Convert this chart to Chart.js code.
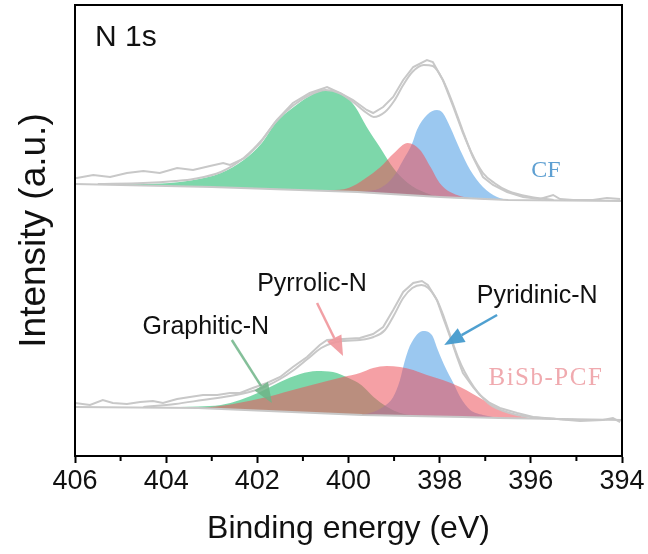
<!DOCTYPE html>
<html>
<head>
<meta charset="utf-8">
<script src="https://cdn.jsdelivr.net/npm/chart.js@4.4.1/dist/chart.umd.min.js"></script>
<style>
  html, body { margin: 0; padding: 0; background: #fff; }
  canvas { display: block; }
</style>
</head>
<body>
<canvas id="grafico" width="648" height="554"></canvas>
<script>
// CF - espectro de cima
const cfRawEv = [406.0, 405.96, 405.6, 405.23, 404.86, 404.5, 404.14, 403.76, 403.41, 403.04, 402.75, 402.6, 402.27, 401.94, 401.57, 401.22, 400.85, 400.47, 400.19, 399.9, 399.6, 399.46, 399.24, 399.02, 398.8, 398.58, 398.28, 398.15, 397.93, 397.7, 397.49, 397.27, 397.05, 396.83, 396.52, 396.17, 395.8, 395.51, 395.36, 395.07, 394.64, 394.33, 394.04]
const cfRawInt = [279, 279, 282, 280, 284, 286, 284, 289, 287, 291, 294, 292, 299, 314, 337, 354, 364, 370, 364, 357, 347, 344, 350, 360, 377, 390, 397, 395, 377, 350, 324, 300, 280, 272, 265, 260, 258, 262, 258, 257, 257, 259, 258]

const cfFitEv = [405.5, 404.5, 403.8, 403.4, 402.8, 402.3, 401.9, 401.6, 401.2, 400.85, 400.5, 400.2, 399.9, 399.6, 399.45, 399.2, 399.0, 398.8, 398.6, 398.35, 398.15, 397.93, 397.7, 397.5, 397.3, 397.05, 396.8, 396.5, 396.0, 395.5]
const cfFitInt = [273, 274, 276, 278, 285, 299, 317, 335, 352, 362, 367, 364, 355, 344, 340, 345, 356, 372, 385, 392, 391, 377, 352, 327, 304, 284, 274, 266, 260, 257]

const cfBaseEv = [406.0, 403.0, 399.8, 398.0, 396.5, 394.0]
const cfBaseInt = [273, 270, 265, 260, 257, 256]

const cfGraphiticEv = [405.5, 404.1, 403.4, 402.8, 402.3, 401.9, 401.6, 401.2, 400.85, 400.5, 400.1, 399.85, 399.6, 399.3, 399.0, 398.7, 398.3, 397.8, 397.2]
const cfGraphiticInt = [272.6, 273.5, 277, 284, 297, 314, 334, 350, 361, 367, 362, 350, 330, 309, 288, 274, 264, 259, 258.6]

const cfPyrrolicEv = [401.0, 400.4, 400.0, 399.65, 399.3, 399.0, 398.7, 398.43, 398.2, 398.0, 397.77, 397.3, 396.9]
const cfPyrrolicInt = [267, 267, 269, 278, 290, 304, 314, 307, 290, 274, 265, 258.5, 257.4]

const cfPyridinicEv = [399.9, 399.5, 399.3, 399.02, 398.8, 398.6, 398.5, 398.28, 398.06, 397.93, 397.77, 397.55, 397.33, 397.05, 396.74, 396.46]
const cfPyridinicInt = [265.2, 266.5, 269, 280, 297, 314, 327, 342, 347, 344, 330, 307, 287, 270, 260, 257]

// BiSb-PCF - espectro de baixo
const pcfRawEv = [406.0, 405.67, 405.39, 405.17, 404.86, 404.57, 404.29, 404.07, 403.76, 403.48, 403.19, 402.88, 402.6, 402.38, 402.1, 401.79, 401.5, 401.22, 400.91, 400.63, 400.47, 400.12, 399.75, 399.46, 399.24, 399.02, 398.8, 398.58, 398.39, 398.26, 398.06, 397.93, 397.77, 397.62, 397.49, 397.27, 397.12, 396.9, 396.68, 396.3, 395.95, 395.43, 394.92, 394.42, 394.2, 394.04]
const pcfRawInt = [54, 52, 57, 54, 53, 55, 56, 54, 58, 60, 62, 62, 64, 64, 69, 74, 80, 90, 100, 112, 117, 118, 119, 123, 130, 147, 165, 174, 176, 172, 157, 140, 120, 100, 84, 70, 62, 54, 49, 44, 40, 38, 36, 37, 39, 35]

const pcfFitEv = [404.5, 403.8, 403.2, 402.6, 402.1, 401.8, 401.5, 401.2, 400.9, 400.6, 400.35, 400.1, 399.75, 399.45, 399.2, 399.0, 398.8, 398.6, 398.4, 398.25, 398.05, 397.9, 397.75, 397.6, 397.45, 397.25, 397.05, 396.85, 396.6, 396.3, 395.9, 395.4, 394.9]
const pcfFitInt = [50, 53, 57, 61, 66, 71, 78, 87, 98, 109, 114, 116, 117, 120, 127, 142, 159, 169, 172, 169, 156, 139, 119, 100, 85, 70, 59, 51, 46, 42, 39.5, 38, 37]

const pcfBaseEv = [406.0, 403.3, 399.7, 397.5, 396.7, 394.0]
const pcfBaseInt = [50, 49, 42, 40, 39, 37]

const pcfGraphiticEv = [404.1, 403.3, 402.8, 402.38, 401.94, 401.5, 401.06, 400.69, 400.34, 400.0, 399.72, 399.45, 399.15, 398.87, 398.5]
const pcfGraphiticInt = [49.5, 50.5, 52, 57, 65, 75, 83, 86, 85, 79, 72, 60, 50, 44, 41.1]

const pcfPyrrolicEv = [403.2, 402.53, 401.79, 401.06, 400.47, 400.12, 399.75, 399.46, 399.16, 398.87, 398.58, 398.28, 397.93, 397.55, 397.27, 396.96, 396.68, 396.4, 396.0]
const pcfPyrrolicInt = [49, 53, 60, 69, 76, 80, 84, 89, 91, 90, 87, 82, 77, 70, 63, 55, 48, 43, 38.6]

const pcfPyridinicEv = [399.75, 399.53, 399.24, 399.02, 398.87, 398.8, 398.69, 398.54, 398.37, 398.17, 398.04, 397.88, 397.7, 397.55, 397.33, 397.05, 396.83]
const pcfPyridinicInt = [42.1, 44, 50, 60, 77, 90, 107, 120, 126, 122, 107, 90, 74, 60, 47, 42, 40]

const minorTicks = [405, 403, 401, 399, 397, 395]

// textos e setas, posicionados em coordenadas de dados (eV, intensidade)
const textos = [
  { texto: 'N 1s', ev: 405.56, int: 419, fonte: '30px "Liberation Sans"', cor: '#111', alinha: 'left' },
  { texto: 'CF', ev: 395.67, int: 286, fonte: '24px "Liberation Serif"', cor: 'rgb(95,160,210)', alinha: 'center' },
  { texto: 'BiSb-PCF', ev: 395.67, int: 79, fonte: '25px "Liberation Serif"', cor: 'rgb(240,170,175)', alinha: 'center', espaco: '1.5px' },
  { texto: 'Graphitic-N', ev: 403.13, int: 130, fonte: '25px "Liberation Sans"', cor: '#111', alinha: 'center' },
  { texto: 'Pyrrolic-N', ev: 400.80, int: 173, fonte: '25px "Liberation Sans"', cor: '#111', alinha: 'center' },
  { texto: 'Pyridinic-N', ev: 395.86, int: 161, fonte: '25px "Liberation Sans"', cor: '#111', alinha: 'center' }
]

const setas = [
  { de: [402.56, 117], para: [401.68, 54], cor: 'rgba(110,180,135,0.85)' },
  { de: [400.69, 154], para: [400.12, 101], cor: 'rgba(240,150,155,0.9)' },
  { de: [396.74, 142], para: [397.90, 112], cor: 'rgba(70,155,205,0.95)' }
]

function pares(xs, ys) {
  return xs.map((x, i) => ({ x: x, y: ys[i] }))
}

const cinza = 'rgb(200,200,200)'

function linhaCinza(dados, suave) {
  return {
    data: dados,
    borderColor: cinza,
    borderWidth: 2,
    pointRadius: 0,
    fill: false,
    order: 0,
    cubicInterpolationMode: suave ? 'monotone' : 'default',
    tension: 0
  }
}

function pico(dados, alvo, cor, ordem) {
  return {
    data: dados,
    borderWidth: 0,
    borderColor: 'rgba(0,0,0,0)',
    backgroundColor: cor,
    pointRadius: 0,
    fill: alvo,
    order: ordem,
    cubicInterpolationMode: 'monotone'
  }
}

const verde = 'rgba(38,188,113,0.6)'
const azul = 'rgba(88,163,230,0.6)'
const rosa = 'rgba(237,82,91,0.55)'

function seta(ctx, x1, y1, x2, y2, cor) {
  const ang = Math.atan2(y2 - y1, x2 - x1)
  const comp = 20, larg = 8
  const bx = x2 - comp * Math.cos(ang)
  const by = y2 - comp * Math.sin(ang)
  ctx.strokeStyle = cor
  ctx.fillStyle = cor
  ctx.lineWidth = 2.5
  ctx.beginPath()
  ctx.moveTo(x1, y1)
  ctx.lineTo(bx, by)
  ctx.stroke()
  ctx.beginPath()
  ctx.moveTo(x2, y2)
  ctx.lineTo(bx + larg * Math.sin(ang), by - larg * Math.cos(ang))
  ctx.lineTo(bx - larg * Math.sin(ang), by + larg * Math.cos(ang))
  ctx.closePath()
  ctx.fill()
}

const decoracao = {
  id: 'decoracao',
  afterDatasetsDraw(chart) {
    const { ctx, scales: { x, y } } = chart
    ctx.save()
    setas.forEach(s => {
      seta(ctx, x.getPixelForValue(s.de[0]), y.getPixelForValue(s.de[1]),
        x.getPixelForValue(s.para[0]), y.getPixelForValue(s.para[1]), s.cor)
    })
    ctx.textBaseline = 'middle'
    textos.forEach(t => {
      ctx.font = t.fonte
      ctx.fillStyle = t.cor
      ctx.textAlign = t.alinha
      ctx.letterSpacing = t.espaco || '0px'
      ctx.fillText(t.texto, x.getPixelForValue(t.ev), y.getPixelForValue(t.int))
    })
    ctx.restore()
  },
  afterDraw(chart) {
    const { ctx, chartArea: a, scales: { x } } = chart
    ctx.save()
    ctx.strokeStyle = '#000'
    ctx.lineWidth = 2
    ctx.strokeRect(a.left, a.top, a.right - a.left, a.bottom - a.top)
    minorTicks.forEach(v => {
      const px = x.getPixelForValue(v)
      ctx.beginPath()
      ctx.moveTo(px, a.bottom)
      ctx.lineTo(px, a.bottom + 5)
      ctx.stroke()
    })
    // titulo do eixo y
    ctx.translate(35, (a.top + a.bottom) / 2)
    ctx.rotate(-Math.PI / 2)
    ctx.font = '37px "Liberation Sans"'
    ctx.fillStyle = '#111'
    ctx.textAlign = 'center'
    ctx.textBaseline = 'middle'
    ctx.fillText('Intensity (a.u.)', 0, 0)
    ctx.restore()
  }
}

new Chart(document.getElementById('grafico'), {
  type: 'line',
  data: {
    datasets: [
      linhaCinza(pares(cfRawEv, cfRawInt), false),
      linhaCinza(pares(cfFitEv, cfFitInt), true),
      linhaCinza(pares(cfBaseEv, cfBaseInt), false),
      linhaCinza(pares(pcfRawEv, pcfRawInt), false),
      linhaCinza(pares(pcfFitEv, pcfFitInt), true),
      linhaCinza(pares(pcfBaseEv, pcfBaseInt), false),
      pico(pares(cfPyrrolicEv, cfPyrrolicInt), 2, rosa, 1),
      pico(pares(pcfPyrrolicEv, pcfPyrrolicInt), 5, rosa, 1),
      pico(pares(cfPyridinicEv, cfPyridinicInt), 2, azul, 2),
      pico(pares(pcfPyridinicEv, pcfPyridinicInt), 5, azul, 2),
      pico(pares(cfGraphiticEv, cfGraphiticInt), 2, verde, 3),
      pico(pares(pcfGraphiticEv, pcfGraphiticInt), 5, verde, 3)
    ]
  },
  options: {
    responsive: false,
    animation: false,
    layout: { padding: { left: 75, right: 26, top: 5, bottom: 0 } },
    plugins: {
      legend: { display: false },
      tooltip: { enabled: false }
    },
    scales: {
      x: {
        type: 'linear',
        min: 394,
        max: 406,
        reverse: true,
        afterFit: s => { s.height = 98 },
        ticks: {
          stepSize: 2,
          maxRotation: 0,
          padding: 2,
          color: '#111',
          font: { family: 'Liberation Sans', size: 27 }
        },
        grid: { drawOnChartArea: false, tickLength: 7, tickWidth: 2, tickColor: '#000' },
        border: { color: '#000', width: 2 },
        title: {
          display: true,
          text: 'Binding energy (eV)',
          color: '#111',
          font: { family: 'Liberation Sans', size: 32 },
          padding: { top: 0, bottom: 6 }
        }
      },
      y: { display: false, min: 1, max: 452 }
    }
  },
  plugins: [decoracao]
})
</script>
</body>
</html>
